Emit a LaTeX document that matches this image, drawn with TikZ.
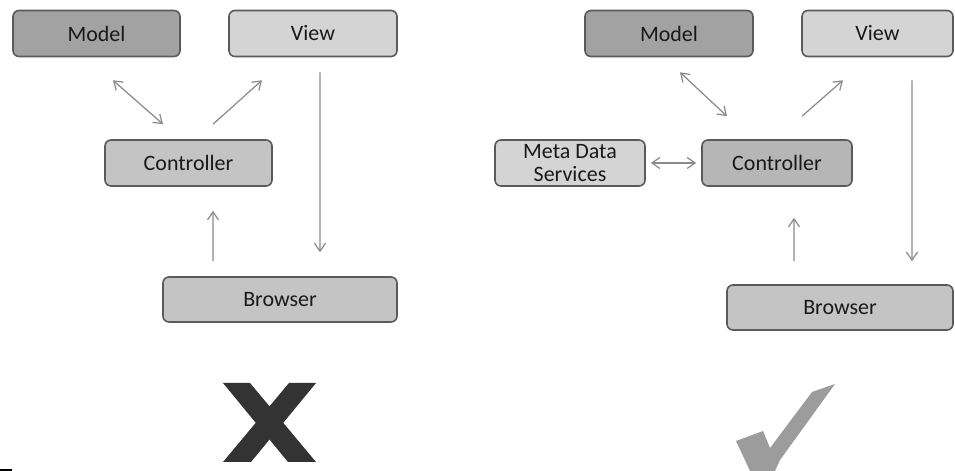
\documentclass[tikz,border=0pt]{standalone}
\usepackage{fontspec}
\setmainfont{Carlito}
\usepackage{tikz}
\usetikzlibrary{positioning}
\usetikzlibrary{arrows.meta}
\usetikzlibrary{calc}
\definecolor{boxline}{HTML}{5A5A5A}
\definecolor{darkfill}{HTML}{A2A2A2}
\definecolor{midfill}{HTML}{B6B6B6}
\definecolor{ctrlfill}{HTML}{C4C4C4}
\definecolor{lightfill}{HTML}{D4D4D4}
\definecolor{arrowgray}{HTML}{8A8A8A}
\definecolor{crossgray}{HTML}{333333}
\definecolor{tickgray}{HTML}{9C9C9C}
\tikzset{>={Straight Barb[length=1.6mm,width=2.2mm]}}
\tikzstyle{boxnode}=[draw=boxline,line width=0.9pt,rounded corners=1.2mm,shape=rectangle,minimum height=9.2mm,inner sep=1pt,font=\fontsize{12.5}{13}\selectfont,align=center,text=black!90]
\tikzstyle{flow}=[->,line width=0.7pt,color=arrowgray]
\tikzstyle{flowboth}=[<->,line width=0.7pt,color=arrowgray]

\begin{document}
\begin{tikzpicture}
	\useasboundingbox (0, 0) rectangle (19.1, -9.42);

	% Wrong way
	\begin{scope}[xshift = 0cm, yshift = 0cm]
	\node[boxnode, fill=darkfill, minimum width=3.34cm] (modelL) at (1.93, -0.67) {Model};
	\node[boxnode, fill=lightfill, minimum width=3.36cm] (viewL) at (6.26, -0.67) {View};
	\node[boxnode, fill=ctrlfill, minimum width=3.34cm] (ctrlL) at (3.77, -3.26) {Controller};
	\node[boxnode, fill=ctrlfill, minimum width=4.68cm, minimum height=9mm] (browserL) at (5.6, -5.99) {Browser};
	\draw[flowboth] ($(modelL.south) + (0.33, -0.46)$) -- ($(ctrlL.north) + (-0.51, 0.30)$);
	\draw[flow] ($(ctrlL.north) + (0.49, 0.30)$) -- ($(viewL.south) + (-1.02, -0.46)$);
	\draw[flow] ($(viewL.south) + (0.14, -0.30)$) -- ($(browserL.north) + (0.8, 0.48)$);
	\draw[flow] ($(browserL.north) + (-1.34, 0.30)$) -- ($(ctrlL.south) + (0.49, -0.48)$);
	\fill[crossgray] (4.46, -7.66) -- (5.0, -7.66) -- (6.32, -9.24) -- (5.76, -9.24) -- cycle;
	\fill[crossgray] (5.78, -7.66) -- (6.32, -7.66) -- (5.02, -9.24) -- (4.46, -9.24) -- cycle;
	\fill[black] (0, -9.38) rectangle (0.24, -9.42);
	\end{scope}

	% Right way
	\begin{scope}[xshift = 0cm, yshift = 0cm]
	\node[boxnode, fill=darkfill, minimum width=3.36cm] (modelR) at (13.38, -0.67) {Model};
	\node[boxnode, fill=lightfill, minimum width=3.02cm] (viewR) at (17.55, -0.67) {View};
	\node[boxnode, fill=lightfill, minimum width=3.0cm] (metaR) at (11.4, -3.26) {Meta Data\\Services};
	\node[boxnode, fill=midfill, minimum width=3.0cm] (ctrlR) at (15.54, -3.26) {Controller};
	\node[boxnode, fill=ctrlfill, minimum width=4.52cm, minimum height=9mm] (browserR) at (16.8, -6.15) {Browser};
	\draw[flowboth] ($(modelR.south) + (0.22, -0.30)$) -- ($(ctrlR.north) + (-1.0, 0.46)$);
	\draw[flow] ($(ctrlR.north) + (0.5, 0.46)$) -- ($(viewR.south) + (-0.69, -0.46)$);
	\draw[flowboth, shorten <=0.1cm, shorten >=0.1cm] (metaR.east) -- (ctrlR.west);
	\draw[flow] ($(viewR.south) + (0.69, -0.46)$) -- ($(browserR.north) + (1.44, 0.46)$);
	\draw[flow] ($(browserR.north) + (-0.92, 0.46)$) -- ($(ctrlR.south) + (0.34, -0.62)$);
	\fill[tickgray] (14.72, -8.82) -- (15.26, -8.62) -- (15.40, -8.96) -- (16.24, -7.84) -- (16.70, -7.68) -- (15.60, -9.20) -- (15.50, -9.42) -- (15.00, -9.42) -- cycle;
	\end{scope}

\end{tikzpicture}
\end{document}
